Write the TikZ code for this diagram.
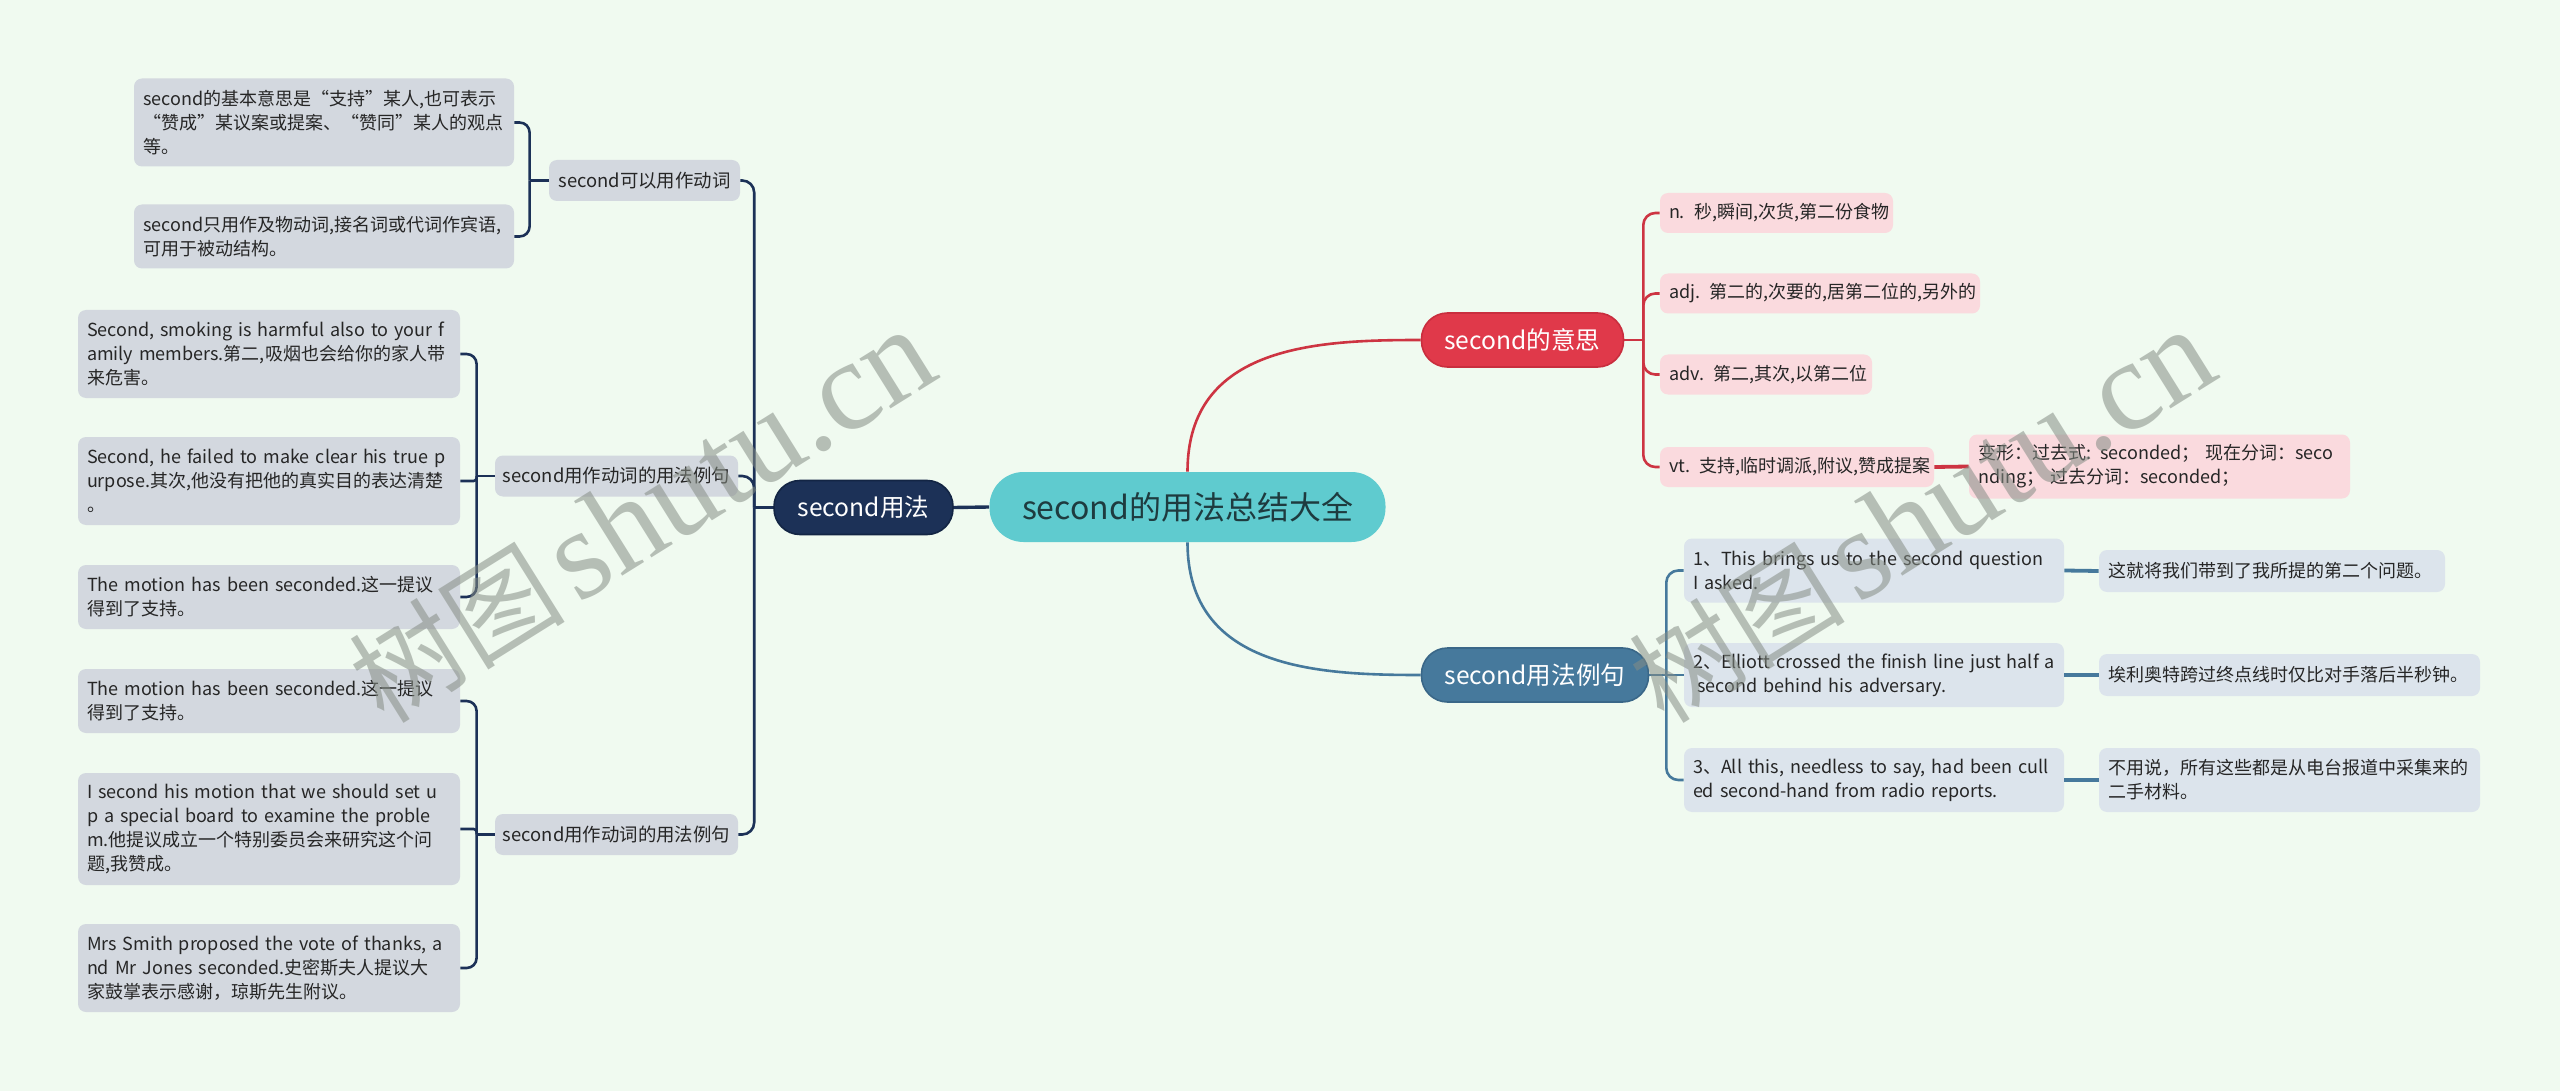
\documentclass[tikz,border=0pt]{standalone}
\usepackage{fontspec}
\setmainfont{Noto Sans CJK SC}
\newfontfamily\wmlatin{Liberation Serif}
\definecolor{bgc}{HTML}{F0FAF0}
\definecolor{rootc}{HTML}{5FCBCF}
\definecolor{roottxt}{HTML}{1E3B3F}
\definecolor{navy}{HTML}{1C3157}
\definecolor{navyd}{HTML}{132544}
\definecolor{redc}{HTML}{E0394A}
\definecolor{redd}{HTML}{C92E3E}
\definecolor{redline}{HTML}{CD3442}
\definecolor{bluec}{HTML}{46799C}
\definecolor{blued}{HTML}{3A6788}
\definecolor{leafgray}{HTML}{D3D8DF}
\definecolor{leafpink}{HTML}{FADADE}
\definecolor{leafblue}{HTML}{DCE4EC}
\definecolor{txt}{HTML}{262626}
\definecolor{wmc}{HTML}{858D85}
\begin{document}
\begin{tikzpicture}[x=0.5pt,y=-0.5pt,
  leafbase/.style={rectangle, rounded corners=4pt, text=txt, font=\fontsize{9pt}{12pt}\selectfont, align=left, inner xsep=4.5pt, inner ysep=2pt},
  grayleaf/.style={leafbase, fill=leafgray},
  pinkleaf/.style={leafbase, fill=leafpink},
  blueleaf/.style={leafbase, fill=leafblue},
  groupnode/.style={rectangle, rounded corners=4pt, fill=leafgray, text=txt, font=\fontsize{9.2pt}{12pt}\selectfont, minimum height=20.5pt, inner sep=2pt},
  mainnode/.style={rectangle, rounded corners=13pt, text=white, font=\fontsize{12.3pt}{15pt}\selectfont, minimum height=27pt, line width=0.8pt, inner sep=2pt},
  rootnode/.style={rectangle, rounded corners=17pt, fill=rootc, text=roottxt, font=\fontsize{16pt}{19pt}\selectfont, minimum height=35pt, minimum width=198pt, inner sep=2pt},
  conn/.style={line width=1.3pt},
  navyconn/.style={conn, draw=navy},
  redconn/.style={conn, draw=redline},
  blueconn/.style={conn, draw=bluec},
  thickconn/.style={line width=1.9pt},
  wm/.style={text=wmc, text opacity=0.55, inner sep=0pt}
]
\fill[bgc] (0,0) rectangle (2560,1091);
\useasboundingbox (0,0) rectangle (2560,1091);

% central and main nodes
\node[rootnode] (root) at (1187.5,507) {second的用法总结大全};
\node[mainnode, fill=navy, draw=navyd, minimum width=89.5pt] (usage) at (863.5,507.5) {second用法};
\node[mainnode, fill=redc, draw=redd, minimum width=101pt] (mean) at (1522.5,340) {second的意思};
\node[mainnode, fill=bluec, draw=blued, minimum width=113.5pt] (ex) at (1535,675) {second用法例句};

% left groups
\node[groupnode, minimum width=95.5pt] (g1) at (644.5,180.5) {second可以用作动词};
\node[groupnode, minimum width=121.5pt] (g2) at (616.5,476) {second用作动词的用法例句};
\node[groupnode, minimum width=121.5pt] (g3) at (616.5,834.5) {second用作动词的用法例句};

% left leaves
\node[grayleaf, text width=181pt, minimum height=44pt] (l1a) at (324,122.5) {second的基本意思是“支持”某人,也可表示\\“赞成”某议案或提案、“赞同”某人的观点\\等。};
\node[grayleaf, text width=181pt, minimum height=32pt] (l1b) at (324,236.5) {second只用作及物动词,接名词或代词作宾语,\\可用于被动结构。};

\node[grayleaf, text width=182pt, minimum height=44pt] (l2a) at (269,354) {Second, smoking is harmful also to your f\\amily members.第二,吸烟也会给你的家人带\\来危害。};
\node[grayleaf, text width=182pt, minimum height=44pt] (l2b) at (269,481) {Second, he failed to make clear his true p\\urpose.其次,他没有把他的真实目的表达清楚\\。};
\node[grayleaf, text width=182pt, minimum height=32pt] (l2c) at (269,597) {The motion has been seconded.这一提议\\得到了支持。};

\node[grayleaf, text width=182pt, minimum height=32pt] (l3a) at (269,701) {The motion has been seconded.这一提议\\得到了支持。};
\node[grayleaf, text width=182pt, minimum height=56pt] (l3b) at (269,829) {I second his motion that we should set u\\p a special board to examine the proble\\m.他提议成立一个特别委员会来研究这个问\\题,我赞成。};
\node[grayleaf, text width=182pt, minimum height=44pt] (l3c) at (269,968) {Mrs Smith proposed the vote of thanks, a\\nd Mr Jones seconded.史密斯夫人提议大\\家鼓掌表示感谢，琼斯先生附议。};

% red leaves
\node[pinkleaf, text width=107.5pt, minimum height=20pt] (r1) at (1776.5,213) {\mbox{n. 秒,瞬间,次货,第二份食物}};
\node[pinkleaf, text width=151pt, minimum height=20pt] (r2) at (1820,293.5) {\mbox{adj. 第二的,次要的,居第二位的,另外的}};
\node[pinkleaf, text width=97pt, minimum height=20pt] (r3) at (1766,374.5) {\mbox{adv. 第二,其次,以第二位}};
\node[pinkleaf, text width=128pt, minimum height=20pt] (r4) at (1797,467) {\mbox{vt. 支持,临时调派,附议,赞成提案}};
\node[pinkleaf, text width=181.5pt, minimum height=32pt] (r5) at (2159.5,466.5) {\mbox{变形：过去式: seconded； 现在分词：seco}\\\mbox{nding； 过去分词：seconded；}};

% blue leaves
\node[blueleaf, text width=181pt, minimum height=32pt] (b1) at (1874,570.5) {1、This brings us to the second question\\I asked.};
\node[blueleaf, text width=181pt, minimum height=32pt] (b2) at (1874,675) {2、Elliott crossed the finish line just half a\\\hspace*{0.25em}second behind his adversary.};
\node[blueleaf, text width=181pt, minimum height=32pt] (b3) at (1874,780) {3、All this, needless to say, had been cull\\ed second-hand from radio reports.};
\node[blueleaf, text width=164pt, minimum height=21pt] (t1) at (2272,571) {\mbox{这就将我们带到了我所提的第二个问题。}};
\node[blueleaf, text width=181.5pt, minimum height=21pt] (t2) at (2289.5,675) {\mbox{埃利奥特跨过终点线时仅比对手落后半秒钟。}};
\node[blueleaf, text width=181.5pt, minimum height=32pt] (t3) at (2289.5,780) {不用说，所有这些都是从电台报道中采集来的\\二手材料。};

% connectors: root
\draw[redconn] (root.north) .. controls +(0,-127) and +(-102,0) .. (mean.west);
\draw[blueconn] (root.south) .. controls +(0,127) and +(-102,0) .. (ex.west);
\draw[navyconn, line width=1.7pt] (root.west) -- (usage.east);

% usage -> groups
\draw[navyconn] (usage.west) -- ++(-19,0) coordinate (uj);
\draw[navyconn, rounded corners=6pt] (uj) |- (g1.east);
\draw[navyconn, rounded corners=6pt] (uj) |- (g2.east);
\draw[navyconn, rounded corners=6pt] (uj) |- (g3.east);

% groups -> leaves
\draw[navyconn] (g1.west) -- ++(-19,0) coordinate (g1j);
\draw[navyconn, rounded corners=5pt] (g1j) |- (l1a.east);
\draw[navyconn, rounded corners=5pt] (g1j) |- (l1b.east);
\draw[navyconn] (g2.west) -- ++(-18,0) coordinate (g2j);
\draw[navyconn, rounded corners=5pt] (g2j) |- (l2a.east);
\draw[navyconn, rounded corners=1.5pt] (g2j) |- (l2b.east);
\draw[navyconn, rounded corners=5pt] (g2j) |- (l2c.east);
\draw[navyconn] (g3.west) -- ++(-18,0) coordinate (g3j);
\draw[navyconn, rounded corners=5pt] (g3j) |- (l3a.east);
\draw[navyconn, rounded corners=1.5pt] (g3j) |- (l3b.east);
\draw[navyconn, rounded corners=5pt] (g3j) |- (l3c.east);

% meaning -> red leaves
\draw[redconn] (mean.east) -- ++(19,0) coordinate (mj);
\draw[redconn, rounded corners=6pt] (mj) |- (r1.west);
\draw[redconn, rounded corners=6pt] (mj) |- (r2.west);
\draw[redconn, rounded corners=6pt] (mj) |- (r3.west);
\draw[redconn, rounded corners=6pt] (mj) |- (r4.west);
\draw[redconn, thickconn] (r4.east) -- (r5.west);

% examples -> blue leaves
\draw[blueconn] (ex.east) -- ++(17,0) coordinate (ej);
\draw[blueconn, rounded corners=6pt] (ej) |- (b1.west);
\draw[blueconn] (ej) -- (b2.west);
\draw[blueconn, rounded corners=6pt] (ej) |- (b3.west);
\draw[blueconn, thickconn] (b1.east) -- (t1.west);
\draw[blueconn, thickconn] (b2.east) -- (t2.west);
\draw[blueconn, thickconn] (b3.east) -- (t3.west);

% watermarks
\node[wm, rotate=32] (wm1) at (642,516) {{\fontsize{54pt}{60pt}\selectfont 树图}\hspace{6pt}{\wmlatin\fontsize{64pt}{70pt}\selectfont shutu.cn}};
\node[wm, rotate=32] (wm2) at (1922,516) {{\fontsize{54pt}{60pt}\selectfont 树图}\hspace{6pt}{\wmlatin\fontsize{64pt}{70pt}\selectfont shutu.cn}};
\end{tikzpicture}
\end{document}
